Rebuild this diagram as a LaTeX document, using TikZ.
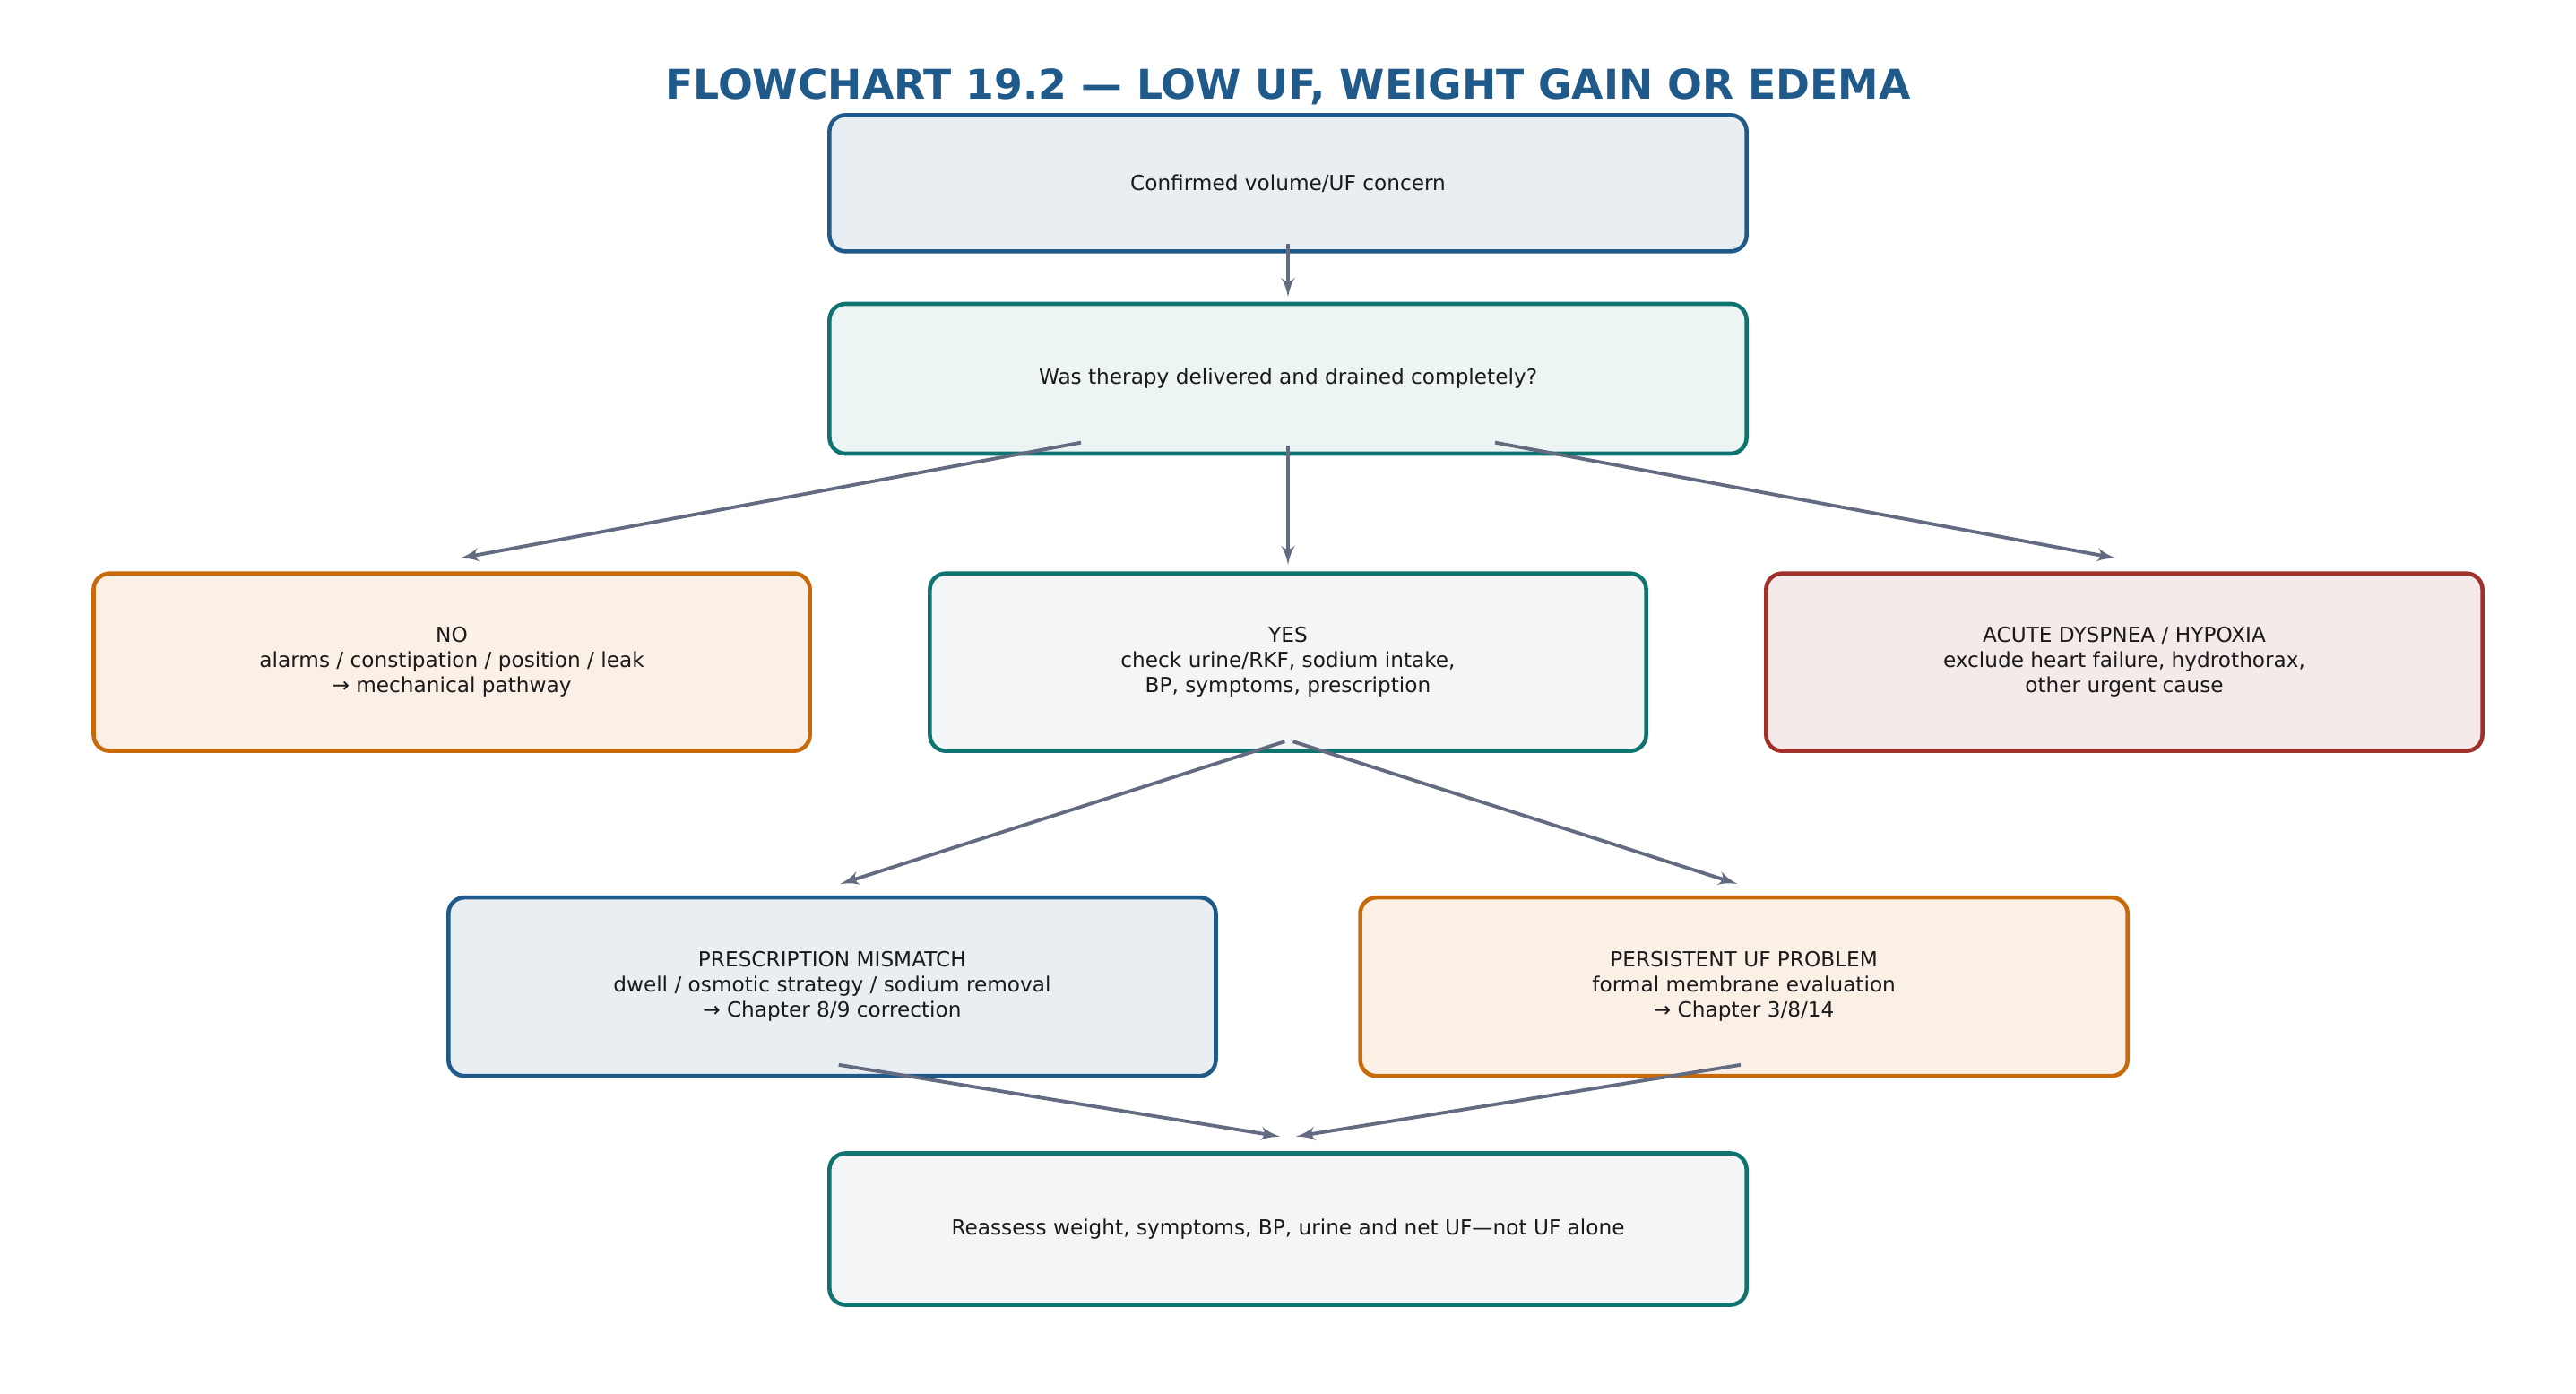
\documentclass[tikz,border=0pt]{standalone}
\usepackage{fontspec}
\setmainfont{DejaVu Sans}
\usetikzlibrary{arrows,calc,positioning}
\definecolor{navy}{HTML}{1F5A8A}
\definecolor{teal}{HTML}{0F7470}
\definecolor{amber}{HTML}{C8690A}
\definecolor{brick}{HTML}{A0302A}
\definecolor{slate}{HTML}{636B80}
\definecolor{ink}{HTML}{1A1A1A}
\tikzset{every picture/.style={
  >=latex'                      % LaTeX style arrows.
  }
}

\begin{document}
\begin{tikzpicture}[
      x=0.01833cm, y=-0.01833cm,
      box/.style 2 args={
        draw=#1,
        fill=#2,
        line width=1.3pt,
        rounded corners=0.18cm,
        align=center,
        text=ink,
        font=\fontsize{6.6}{8}\selectfont
      },
      link/.style={->, draw=slate, line width=1.1pt}]

      \useasboundingbox (0,0) rectangle (1568,848);

      % Title.
      \node[text=navy, font=\fontsize{13}{15}\bfseries\selectfont] (title) at (784,53)
        {FLOWCHART 19.2 --- LOW UF, WEIGHT GAIN OR EDEMA};

      % Draw the boxes.
      \node[box={navy}{navy!10}, minimum width=10.23cm, minimum height=1.52cm] (concern) at (784,111.5)
        {Confirmed volume/UF concern};
      \node[box={teal}{teal!8}, minimum width=10.23cm, minimum height=1.67cm] (therapy) at (784,230.5)
        {Was therapy delivered and drained completely?};
      \node[box={amber}{amber!10}, minimum width=7.99cm, minimum height=1.98cm] (no) at (275,403)
        {NO\\alarms / constipation / position / leak\\→ mechanical pathway};
      \node[box={teal}{slate!7}, minimum width=7.99cm, minimum height=1.98cm] (yes) at (784,403)
        {YES\\check urine/RKF, sodium intake,\\BP, symptoms, prescription};
      \node[box={brick}{brick!10}, minimum width=7.99cm, minimum height=1.98cm] (acute) at (1293,403)
        {ACUTE DYSPNEA / HYPOXIA\\exclude heart failure, hydrothorax,\\other urgent cause};
      \node[box={navy}{navy!10}, minimum width=8.56cm, minimum height=1.99cm] (mismatch) at (506.5,600.5)
        {PRESCRIPTION MISMATCH\\dwell / osmotic strategy / sodium removal\\→ Chapter 8/9 correction};
      \node[box={amber}{amber!10}, minimum width=8.56cm, minimum height=1.99cm] (persist) at (1061.5,600.5)
        {PERSISTENT UF PROBLEM\\formal membrane evaluation\\→ Chapter 3/8/14};
      \node[box={teal}{slate!7}, minimum width=10.23cm, minimum height=1.69cm] (reassess) at (784,748)
        {Reassess weight, symptoms, BP, urine and net UF---not UF alone};

      % Draw the links.
      \draw[link] ($(concern.south)+(0,-6)$) -- ($(therapy.north)+(0,-3)$);
      \draw[link] ($(therapy.south)+(-126,-8)$) -- ($(no.north)+(5,-8)$);
      \draw[link] ($(therapy.south)+(0,-6)$) -- ($(yes.north)+(0,-4)$);
      \draw[link] ($(therapy.south)+(126,-8)$) -- ($(acute.north)+(-5,-8)$);
      \draw[link] ($(yes.south)+(-2,-7)$) -- ($(mismatch.north)+(5,-7)$);
      \draw[link] ($(yes.south)+(3,-7)$) -- ($(persist.north)+(-4,-7)$);
      \draw[link] ($(mismatch.south)+(4,-8)$) -- ($(reassess.north)+(-5,-9)$);
      \draw[link] ($(persist.south)+(-2,-8)$) -- ($(reassess.north)+(5,-9)$);

    \end{tikzpicture}
\end{document}
